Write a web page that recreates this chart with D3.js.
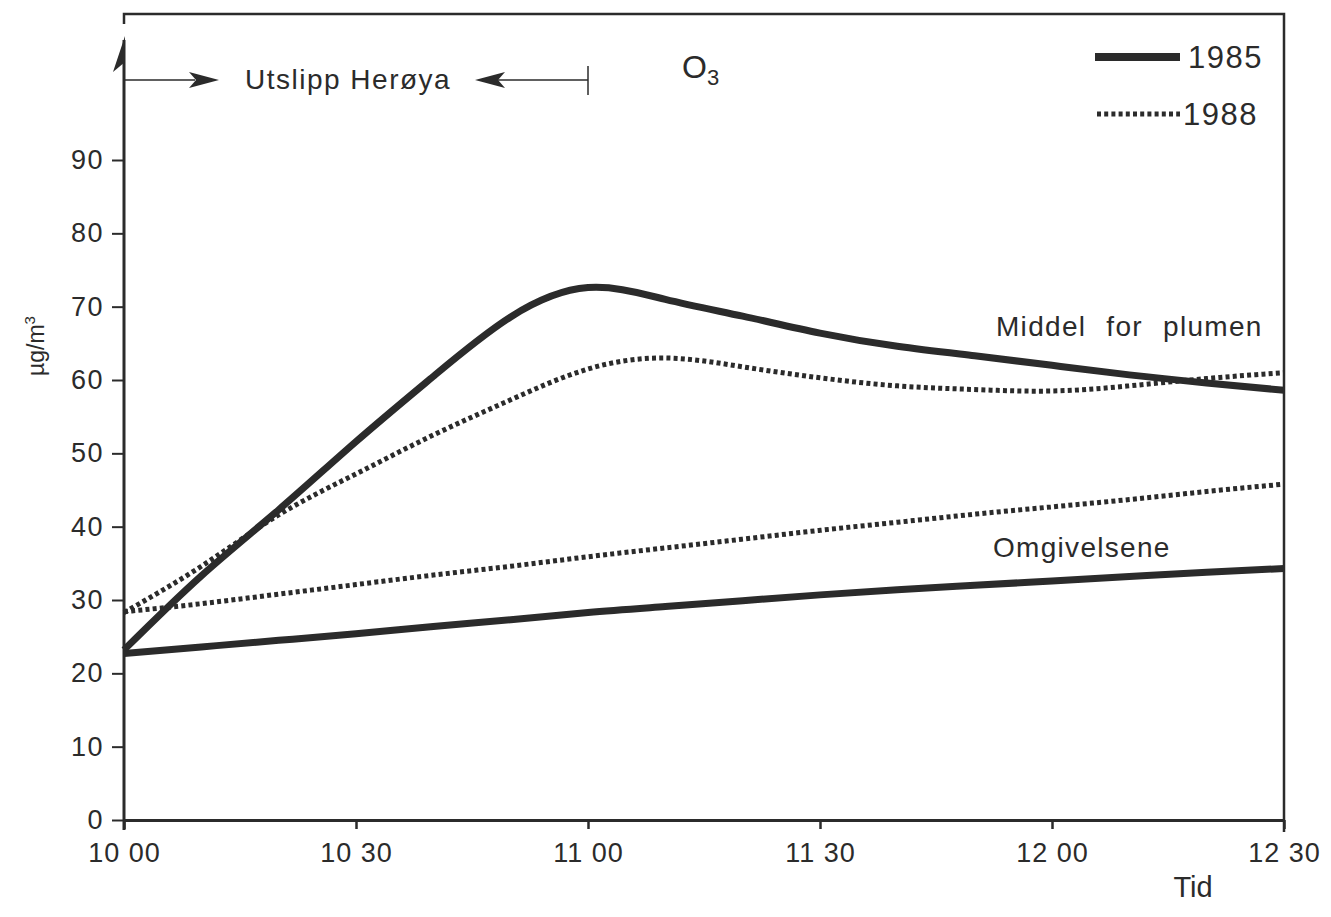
<!DOCTYPE html>
<html>
<head>
<meta charset="utf-8">
<script src="https://cdn.jsdelivr.net/npm/d3@7"></script>
<style>
	html, body { margin: 0; padding: 0; background: #fff; }
	svg text { font-family: 'Liberation Sans', Arial, sans-serif; fill: #2b2b2b; }
</style>
</head>
<body>
<svg id="chart" width="1331" height="917"></svg>
<script>
'use strict';

// minutes after 10:00
const minutes = [0, 10, 20, 30, 40, 50, 60, 70, 80, 90, 100, 110, 120, 130, 140, 150];

// O3, µg/m3 - mean in the plume
const plume1985 = [23.2, 33.3, 42.3, 51.6, 60.5, 68.6, 72.6, 71.0, 68.7, 66.4, 64.6, 63.3, 62.0, 60.7, 59.6, 58.6];
const plume1988 = [28.3, 34.6, 41.6, 47.2, 52.5, 57.3, 61.5, 63.0, 61.8, 60.3, 59.2, 58.7, 58.5, 59.2, 60.2, 61.0];

// O3, µg/m3 - surroundings
const ambient1985 = [22.7, 23.6, 24.5, 25.4, 26.4, 27.3, 28.3, 29.1, 29.9, 30.7, 31.4, 32.0, 32.6, 33.2, 33.8, 34.3];
const ambient1988 = [28.4, 29.5, 30.8, 32.1, 33.4, 34.6, 35.9, 37.1, 38.3, 39.5, 40.6, 41.7, 42.7, 43.7, 44.8, 45.8];

const xTicks = [0, 30, 60, 90, 120, 150];
const xTickLabels = ['10 00', '10 30', '11 00', '11 30', '12 00', '12 30'];
const yTicks = [0, 10, 20, 30, 40, 50, 60, 70, 80, 90];

const ink = '#2b2b2b';
const font = "'Liberation Sans', Arial, sans-serif";
const plotLeft = 124, plotRight = 1284, plotTop = 14, plotBottom = 820;

const svg = d3.select('#chart');

const x = d3.scaleLinear().domain([0, 150]).range([plotLeft, plotRight]);
const y = d3.scaleLinear().domain([0, 90]).range([plotBottom, 160]);

/* frame: top and right border */
svg.append('path')
	.attr('d', `M${plotLeft},${plotTop + 10} V${plotTop} H${plotRight} V${plotBottom + 12}`)
	.attr('fill', 'none')
	.attr('stroke', ink)
	.attr('stroke-width', 2.5);

/* left axis with half arrow head */
svg.append('line')
	.attr('x1', plotLeft).attr('x2', plotLeft)
	.attr('y1', plotBottom + 10).attr('y2', 40)
	.attr('stroke', ink)
	.attr('stroke-width', 3);
svg.append('path')
	.attr('d', `M${plotLeft + 1},36 L${plotLeft - 11},72 L${plotLeft + 1},62 Z`)
	.attr('fill', ink);

/* y axis */
const yAxis = d3.axisLeft(y).tickValues(yTicks).tickSize(12).tickPadding(8);
svg.append('g')
	.attr('transform', `translate(${plotLeft},0)`)
	.call(yAxis)
	.call(g => g.select('.domain').remove())
	.call(g => g.selectAll('line').attr('stroke', ink).attr('stroke-width', 2))
	.call(g => g.selectAll('text')
		.style('font-family', font)
		.style('font-size', '27px')
		.style('letter-spacing', '1.5px')
		.attr('fill', ink));

/* x axis */
const xAxis = d3.axisBottom(x)
	.tickValues(xTicks)
	.tickFormat((d, i) => xTickLabels[i])
	.tickSize(9)
	.tickPadding(14);
svg.append('g')
	.attr('transform', `translate(0,${plotBottom})`)
	.call(xAxis)
	.call(g => g.select('.domain').attr('d', `M${plotLeft},0.5H${plotRight}`).attr('stroke', ink).attr('stroke-width', 3))
	.call(g => g.selectAll('line').attr('stroke', ink).attr('stroke-width', 2.5))
	.call(g => g.selectAll('text')
		.style('font-family', font)
		.style('font-size', '27px')
		.style('letter-spacing', '1px')
		.attr('fill', ink));

/* axis titles */
svg.append('text')
	.attr('transform', 'translate(44,346) rotate(-90)')
	.attr('text-anchor', 'middle')
	.style('font-size', '23px')
	.html('µg/m<tspan dy="-9" font-size="15px">3</tspan>');

svg.append('text')
	.attr('x', 1193).attr('y', 897)
	.attr('text-anchor', 'middle')
	.style('font-size', '29px')
	.text('Tid');

/* curves */
const line = d3.line()
	.x((d, i) => x(minutes[i]))
	.y(d => y(d))
	.curve(d3.curveNatural);

const series = [
	{ values: ambient1985, dashed: false },
	{ values: plume1985, dashed: false },
	{ values: ambient1988, dashed: true },
	{ values: plume1988, dashed: true }
];

svg.append('g').selectAll('path')
	.data(series)
	.join('path')
		.attr('d', d => line(d.values))
		.attr('fill', 'none')
		.attr('stroke', ink)
		.attr('stroke-width', d => d.dashed ? 5 : 7)
		.attr('stroke-dasharray', d => d.dashed ? '4 3.2' : null)
		.attr('stroke-linecap', 'butt');

/* curve labels */
svg.append('text')
	.attr('x', 996).attr('y', 336)
	.style('font-size', '28px')
	.style('letter-spacing', '1.3px')
	.style('word-spacing', '11px')
	.text('Middel for plumen');
svg.append('text')
	.attr('x', 993).attr('y', 557)
	.style('font-size', '28px')
	.style('letter-spacing', '1.3px')
	.text('Omgivelsene');

/* emission period: Utslipp Herøya */
const emission = svg.append('g');
emission.append('line')
	.attr('x1', plotLeft).attr('x2', 195)
	.attr('y1', 80).attr('y2', 80)
	.attr('stroke', ink).attr('stroke-width', 1.5);
emission.append('path')
	.attr('d', 'M219,80 L189,72 L196,80 L189,88 Z')
	.attr('fill', ink);
emission.append('text')
	.attr('x', 245).attr('y', 89)
	.style('font-size', '28px')
	.style('letter-spacing', '1.5px')
	.text('Utslipp Herøya');
emission.append('line')
	.attr('x1', 498).attr('x2', x(60))
	.attr('y1', 80).attr('y2', 80)
	.attr('stroke', ink).attr('stroke-width', 1.5);
emission.append('path')
	.attr('d', 'M475,80 L505,72 L498,80 L505,88 Z')
	.attr('fill', ink);
emission.append('line')
	.attr('x1', x(60)).attr('x2', x(60))
	.attr('y1', 66).attr('y2', 95)
	.attr('stroke', ink).attr('stroke-width', 1.5);

/* title */
svg.append('text')
	.attr('x', 682).attr('y', 78)
	.style('font-size', '32px')
	.html('O<tspan dy="7" font-size="22px">3</tspan>');

/* legend */
const legend = [
	{ label: '1985', dashed: false, y: 57, x1: 1095, tx: 1188 },
	{ label: '1988', dashed: true, y: 114, x1: 1097, tx: 1183 }
];
const lg = svg.append('g').selectAll('g')
	.data(legend)
	.join('g');
lg.append('line')
	.attr('x1', d => d.x1).attr('x2', 1180)
	.attr('y1', d => d.y).attr('y2', d => d.y)
	.attr('stroke', ink)
	.attr('stroke-width', d => d.dashed ? 5 : 8)
	.attr('stroke-dasharray', d => d.dashed ? '4 3.2' : null);
lg.append('text')
	.attr('x', d => d.tx).attr('y', d => d.y + 11)
	.style('font-size', '31px')
	.style('letter-spacing', '1.5px')
	.text(d => d.label);
</script>
</body>
</html>
